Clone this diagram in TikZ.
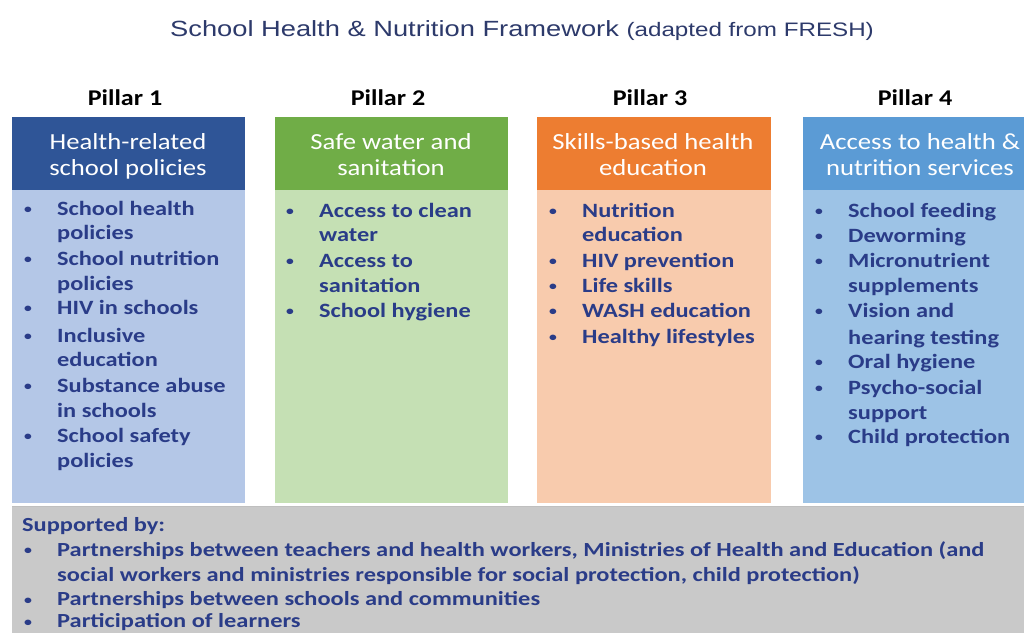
\documentclass[tikz,border=0pt]{standalone}
\usepackage{fontspec}
\setmainfont{Carlito}[FakeStretch=1.16]
\newfontfamily\bodyfont{Carlito}[FakeStretch=1.2]
\newfontfamily\titlefont{Liberation Sans}[FakeStretch=1.24]
\newfontfamily\botfont{Carlito}[FakeStretch=1.22]
\definecolor{h1}{HTML}{2F5597}\definecolor{b1}{HTML}{B4C7E7}
\definecolor{h2}{HTML}{70AD47}\definecolor{b2}{HTML}{C5E0B4}
\definecolor{h3}{HTML}{ED7D31}\definecolor{b3}{HTML}{F8CBAD}
\definecolor{h4}{HTML}{5B9BD5}\definecolor{b4}{HTML}{9DC3E6}
\definecolor{txt}{HTML}{2A3C88}
\definecolor{ttl}{HTML}{2D3A6B}
\definecolor{gry}{HTML}{C9C9C9}
\newcommand\bul{\llap{\hbox to 33pt{\fontsize{13}{13}\selectfont\raisebox{1.5pt}{•}\hfil}}}
\begin{document}
\begin{tikzpicture}[x=1pt,y=-1pt,
  hdr/.style={anchor=base,inner sep=0pt,text=white,font=\fontsize{23}{23}\selectfont},
  itm/.style={anchor=base west,inner sep=0pt,text=txt,font=\bodyfont\bfseries\fontsize{20.3}{20.3}\selectfont},
  bot/.style={anchor=base west,inner sep=0pt,text=txt,font=\botfont\bfseries\fontsize{20}{20}\selectfont},
  pil/.style={anchor=base,inner sep=0pt,font=\bfseries\fontsize{22.5}{22.5}\selectfont}]
\useasboundingbox (0,0) rectangle (1024,633);
\fill[white] (0,0) rectangle (1024,633);
% title
\node[anchor=base west,inner sep=0pt,text=ttl] (title) at (170,36)
  {\titlefont\fontsize{22}{22}\selectfont School Health \& Nutrition Framework\ {\fontsize{19.5}{19.5}\selectfont(adapted from FRESH)}};
% pillar labels
\node[pil] (p1) at (125,105) {Pillar 1};
\node[pil] (p2) at (388,105) {Pillar 2};
\node[pil] (p3) at (650,105) {Pillar 3};
\node[pil] (p4) at (915,105) {Pillar 4};
% boxes
\fill[b1] (12,190) rectangle (245,503);
\fill[h1] (12,117) rectangle (245,190);
\fill[b2] (275,190) rectangle (508,503);
\fill[h2] (275,117) rectangle (508,190);
\fill[b3] (537,190) rectangle (771,503);
\fill[h3] (537,117) rectangle (771,190);
\fill[b4] (803,190) rectangle (1024,503);
\fill[h4] (803,117) rectangle (1024,190);
% headers
\node[hdr] (h1a) at (128,149) {Health-related};
\node[hdr] (h1b) at (128,175) {school policies};
\node[hdr] (h2a) at (391,149) {Safe water and};
\node[hdr] (h2b) at (391,175) {sanitation};
\node[hdr] (h3a) at (653,149) {Skills-based health};
\node[hdr] (h3b) at (653,175) {education};
\node[hdr] (h4a) at (920,149) {Access to health \&};
\node[hdr] (h4b) at (920,175) {nutrition services};
% pillar 1
\node[itm] (a1) at (57,215) {\bul School health};
\node[itm] (a2) at (57,239) {policies};
\node[itm] (a3) at (57,265) {\bul School nutrition};
\node[itm] (a4) at (57,290) {policies};
\node[itm] (a5) at (57,314) {\bul HIV in schools};
\node[itm] (a6) at (57,342) {\bul Inclusive};
\node[itm] (a7) at (57,366) {education};
\node[itm] (a8) at (57,392) {\bul Substance abuse};
\node[itm] (a9) at (57,417) {in schools};
\node[itm] (a10) at (57,442) {\bul School safety};
\node[itm] (a11) at (57,467) {policies};
% pillar 2
\node[itm] (c1) at (319,217) {\bul Access to clean};
\node[itm] (c2) at (319,241) {water};
\node[itm] (c3) at (319,267) {\bul Access to};
\node[itm] (c4) at (319,292) {sanitation};
\node[itm] (c5) at (319,317) {\bul School hygiene};
% pillar 3
\node[itm] (d1) at (582,217) {\bul Nutrition};
\node[itm] (d2) at (582,241) {education};
\node[itm] (d3) at (582,267) {\bul HIV prevention};
\node[itm] (d4) at (582,292) {\bul Life skills};
\node[itm] (d5) at (582,317) {\bul WASH education};
\node[itm] (d6) at (582,343) {\bul Healthy lifestyles};
% pillar 4
\node[itm] (e1) at (848,217) {\bul School feeding};
\node[itm] (e2) at (848,242) {\bul Deworming};
\node[itm] (e3) at (848,267) {\bul Micronutrient};
\node[itm] (e4) at (848,292) {supplements};
\node[itm] (e5) at (848,317) {\bul Vision and};
\node[itm] (e6) at (848,344) {hearing testing};
\node[itm] (e7) at (848,368) {\bul Oral hygiene};
\node[itm] (e8) at (848,394) {\bul Psycho-social};
\node[itm] (e9) at (848,419) {support};
\node[itm] (e10) at (848,443) {\bul Child protection};
% bottom
\fill[gry] (12,506) rectangle (1024,633);
\draw[line width=1.2pt,color=black!25] (12,506.6) -- (1024,506.6);
\node[bot] (s0) at (22,531) {Supported by:};
\node[bot] (s1) at (57,556) {\bul Partnerships between teachers and health workers, Ministries of Health and Education (and};
\node[bot] (s2) at (57,581.5) {social workers and ministries responsible for social protection, child protection)};
\node[bot] (s3) at (57,605.5) {\bul Partnerships between schools and communities};
\node[bot] (s4) at (57,627.5) {\bul Participation of learners};
\end{tikzpicture}
\end{document}
